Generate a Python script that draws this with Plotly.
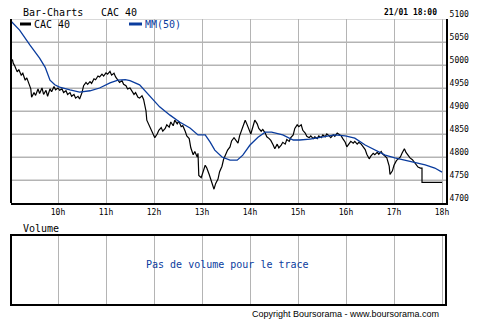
import plotly.graph_objects as go

DAY = "2008-01-21"

# CAC 40 intraday (time, value)
cac_times = ["09:03","09:04","09:06","09:09","09:11","09:14","09:16","09:19","09:21","09:24",
             "09:26","09:27","09:30","09:32","09:35","09:37","09:40","09:42","09:45","09:47",
             "09:50","09:52","09:55","09:57","10:00","10:02","10:05","10:07","10:10","10:12",
             "10:15","10:17","10:20","10:22","10:25","10:27","10:30","10:32","10:35","10:37",
             "10:40","10:42","10:45","10:47","10:50","10:52","10:55","10:57","11:00","11:02",
             "11:05","11:07","11:10","11:12","11:15","11:17","11:20","11:22","11:25","11:27",
             "11:30","11:32","11:35","11:37","11:40","11:42","11:45","11:47","11:50","11:51",
             "11:54","11:56","11:59","12:01","12:04","12:06","12:09","12:11","12:14","12:16",
             "12:19","12:21","12:24","12:26","12:29","12:31","12:34","12:36","12:39","12:41",
             "12:44","12:46","12:49","12:51","12:54","12:55","12:56","12:59","13:04","13:06",
             "13:09","13:11","13:14","13:15","13:17","13:20","13:22","13:25","13:27","13:30",
             "13:32","13:35","13:37","13:40","13:42","13:45","13:47","13:50","13:52","13:54",
             "13:56","13:59","14:01","14:04","14:06","14:09","14:11","14:14","14:16","14:19",
             "14:21","14:24","14:26","14:29","14:31","14:34","14:36","14:39","14:41","14:44",
             "14:46","14:49","14:51","14:54","14:56","14:59","15:01","15:04","15:06","15:09",
             "15:11","15:14","15:16","15:19","15:21","15:24","15:26","15:29","15:31","15:34",
             "15:36","15:39","15:41","15:44","15:46","15:49","15:51","15:54","15:56","15:59",
             "16:01","16:04","16:06","16:09","16:11","16:14","16:16","16:19","16:21","16:24",
             "16:26","16:29","16:31","16:34","16:36","16:39","16:41","16:44","16:46","16:49",
             "16:51","16:54","16:55","16:58","17:00","17:03","17:05","17:08","17:10","17:13",
             "17:15","17:18","17:20","17:23","17:25","17:28","17:30","17:33","17:35","17:35",
             "18:00"]
cac_values = [5012,5004,4998,4985,4990,4978,4982,4967,4972,4955,
              4948,4930,4940,4934,4948,4938,4950,4936,4945,4932,
              4948,4942,4953,4946,4950,4945,4948,4940,4944,4936,
              4940,4932,4936,4928,4932,4926,4940,4955,4962,4958,
              4964,4960,4970,4968,4976,4974,4980,4976,4983,4980,
              4986,4978,4982,4974,4968,4962,4966,4958,4955,4948,
              4950,4944,4936,4940,4930,4928,4933,4925,4900,4880,
              4868,4860,4848,4842,4850,4858,4864,4856,4862,4870,
              4865,4876,4868,4880,4872,4878,4866,4868,4856,4846,
              4840,4820,4805,4812,4800,4808,4760,4755,4782,4776,
              4762,4752,4738,4730,4742,4752,4768,4780,4795,4808,
              4815,4822,4835,4842,4838,4830,4846,4860,4874,4880,
              4872,4858,4850,4868,4880,4872,4862,4856,4860,4852,
              4844,4840,4836,4826,4818,4828,4820,4826,4832,4828,
              4838,4834,4842,4848,4862,4870,4866,4870,4858,4852,
              4845,4842,4846,4840,4844,4840,4846,4842,4848,4844,
              4850,4846,4842,4848,4845,4852,4850,4846,4840,4832,
              4822,4828,4834,4830,4834,4828,4832,4828,4824,4816,
              4806,4796,4802,4808,4805,4810,4806,4812,4806,4802,
              4798,4780,4762,4770,4782,4792,4796,4800,4808,4818,
              4810,4802,4798,4794,4790,4784,4778,4776,4776,4745,
              4745]

# Moving average MM(50)
mm_times = ["09:02","09:12","09:25","09:37","09:44","09:50","09:56","10:02","10:15","10:27",
            "10:40","10:52","11:05","11:15","11:24","11:30","11:42","11:55","12:07","12:20",
            "12:32","12:45","12:55","13:04","13:10","13:16","13:25","13:35","13:44","13:51",
            "14:00","14:10","14:19","14:27","14:41","14:54","15:02","15:15","15:27","15:46",
            "15:59","16:11","16:24","16:36","16:49","17:01","17:14","17:26","17:39","17:51",
            "18:00"]
mm_values = [5094,5076,5043,5015,4995,4967,4957,4952,4946,4941,
             4944,4950,4961,4967,4968,4966,4957,4932,4909,4891,
             4876,4863,4848,4848,4833,4815,4800,4793,4793,4804,
             4826,4843,4854,4854,4848,4837,4837,4839,4843,4848,
             4846,4841,4826,4815,4804,4798,4793,4789,4783,4776,
             4767]

# Volume panel: no data
vol_times = []
vol_values = []

# price axis ticks
y_ticks = [4700, 4750, 4800, 4850, 4900, 4950, 5000, 5050, 5100]
Y_MIN, Y_MAX, Y_STEP = 4700, 5100, 50

W, H = 490, 325
L, R, T, B = 11, 44, 19, 20
PW, PH = W - L - R, H - T - B


def px(x):
    return (x - L) / PW


def py(y):
    return (H - B - y) / PH


MONO = "DejaVu Sans Mono"
BLUE = "#0a3c9e"
GRID = "#b4b4b4"

xrange_ = [f"{DAY} 09:01:15", f"{DAY} 18:05"]
main_bottom = py(203)
vol_top = py(235)

fig = go.Figure()
fig.add_trace(go.Scatter(x=[f"{DAY} {t}" for t in cac_times], y=cac_values,
                         mode="lines", line=dict(color="black", width=1.2),
                         name="CAC 40", showlegend=False, xaxis="x", yaxis="y"))
fig.add_trace(go.Scatter(x=[f"{DAY} {t}" for t in mm_times], y=mm_values,
                         mode="lines", line=dict(color=BLUE, width=1.3),
                         name="MM(50)", showlegend=False, xaxis="x", yaxis="y"))
fig.add_trace(go.Bar(x=[f"{DAY} {t}" for t in vol_times], y=vol_values,
                     name="Volume", showlegend=False, xaxis="x", yaxis="y2"))

shapes = []
# horizontal price grid lines (on the price scale, under the data)
for v in y_ticks[1:]:
    shapes.append(dict(type="line", xref="x", yref="y", x0=xrange_[0], x1=xrange_[1],
                       y0=v, y1=v, line=dict(color=GRID, width=1), layer="below"))
shapes += [
    # left border of main chart
    dict(type="line", xref="x domain", yref="y domain", x0=0, x1=0, y0=0, y1=1,
         line=dict(color="black", width=2)),
    # volume frame
    dict(type="rect", xref="x domain", yref="y2 domain", x0=0, x1=1, y0=0, y1=1,
         line=dict(color="black", width=2)),
    # legend symbols
    dict(type="line", xref="paper", yref="paper", x0=px(20), x1=px(31), y0=py(24), y1=py(24),
         line=dict(color="black", width=3)),
    dict(type="line", xref="paper", yref="paper", x0=px(129), x1=px(142), y0=py(24), y1=py(24),
         line=dict(color=BLUE, width=3)),
]

fig.update_layout(
    width=W, height=H,
    margin=dict(l=L, r=R, t=T, b=B, pad=0),
    paper_bgcolor="white", plot_bgcolor="white",
    showlegend=False,
    xaxis=dict(domain=[0, 1], anchor="y", type="date", range=xrange_,
               tick0=f"{DAY} 10:00", dtick=3600000, tickformat="%Hh",
               showgrid=True, gridcolor=GRID, gridwidth=1,
               showline=True, linecolor="black", linewidth=2,
               ticks="", ticklen=0,
               tickfont=dict(family=MONO, size=8, color="black"),
               zeroline=False, fixedrange=True),
    yaxis=dict(domain=[main_bottom, 1], anchor="x", side="right",
               range=[Y_MIN, Y_MAX], tickmode="linear", tick0=Y_MIN, dtick=Y_STEP,
               ticklabelshift=-5,
               showgrid=True, gridcolor=GRID, gridwidth=1,
               showline=True, linecolor="black", linewidth=2,
               ticks="",
               tickfont=dict(family=MONO, size=8, color="black"),
               zeroline=False, fixedrange=True),
    yaxis2=dict(domain=[0, vol_top], anchor="x", range=[0, 1],
                showgrid=False, showticklabels=False, ticks="",
                zeroline=False, showline=False, fixedrange=True),
    shapes=shapes,
)

ann = [
    dict(text="Bar-Charts", x=px(21), y=py(12), xanchor="left", font=dict(family=MONO, size=10, color="black")),
    dict(text="CAC 40", x=px(99), y=py(12), xanchor="left", font=dict(family=MONO, size=10, color="black")),
    dict(text="<b>21/01 18:00</b>", x=px(439), y=py(12), xanchor="right", font=dict(family=MONO, size=8, color="black")),
    dict(text="CAC 40", x=px(32), y=py(24), xanchor="left", font=dict(family=MONO, size=10, color="black")),
    dict(text="MM(50)", x=px(143), y=py(24), xanchor="left", font=dict(family=MONO, size=10, color=BLUE)),
    dict(text="Volume", x=px(21), y=py(228), xanchor="left", font=dict(family=MONO, size=10, color="black")),
    dict(text="Pas de volume pour le trace", x=px(227), y=py(264), xanchor="center",
         font=dict(family=MONO, size=10, color=BLUE)),
    dict(text="Copyright Boursorama - www.boursorama.com", x=px(441), y=py(314), xanchor="right",
         font=dict(family="Liberation Sans", size=9, color="black")),
]
for a in ann:
    a.update(xref="paper", yref="paper", yanchor="middle", showarrow=False)
    fig.add_annotation(**a)

fig.write_html("out.html")
